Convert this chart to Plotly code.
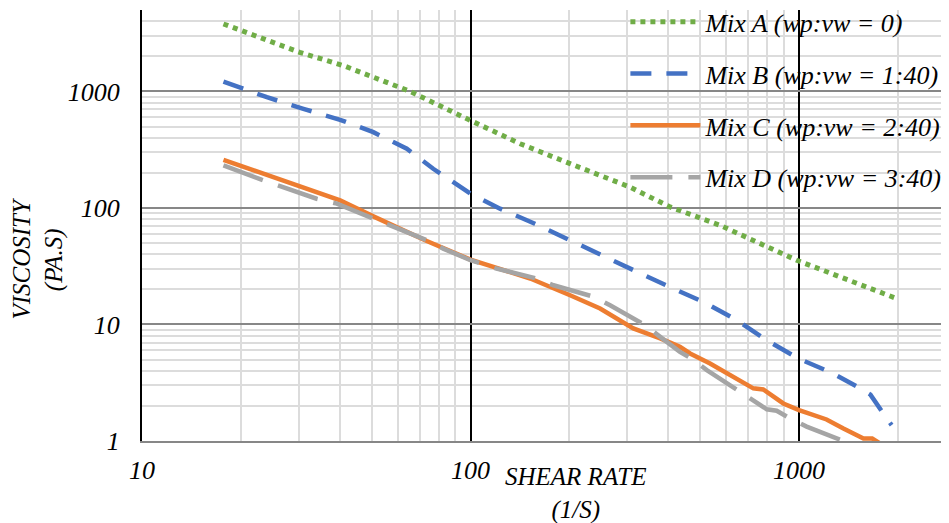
import plotly.graph_objects as go

# ---- data ----
shear_a = [17.7, 30.2, 41, 65.5, 100, 141.6, 201, 306, 405, 575, 984, 1982]
visc_a = [3794, 2168, 1667, 1000, 563, 356, 240, 151, 102, 71, 35.6, 16.7]

shear_b = [17.7, 19.9, 24, 31, 40.1, 50.6, 64, 77, 100, 123, 157, 201, 260, 319, 405,
           512, 646, 798, 995, 1270, 1535, 1650, 1850, 1914]
visc_b = [1216, 1074, 892, 709, 571, 447, 322, 217, 133, 98.6, 73.3, 52.8, 38, 28.6, 20.9,
          15.6, 10.9, 7.33, 5.11, 3.8, 2.83, 2.5, 1.56, 1.37]

shear_c = [17.7, 40.1, 50.6, 73.6, 100, 152, 201, 248, 313, 378, 434, 466, 536, 661, 726,
           778, 896, 1000, 1213, 1365, 1571, 1670, 1768]
visc_c = [259, 116, 84.7, 52, 36, 24.8, 17.8, 13.7, 9.24, 7.6, 6.43, 5.64, 4.63, 3.33, 2.83,
          2.77, 2.10, 1.84, 1.53, 1.28, 1.05, 1.05, 0.95]

shear_d = [17.7, 23.1, 34, 39.2, 50.6, 73.6, 82.6, 100, 120, 159, 179, 237, 266, 340, 378,
           434, 471, 524, 661, 735, 798, 855, 939, 1055, 1365]
visc_d = [232, 175, 120, 109, 81, 52.8, 44.8, 35.6, 30.2, 24.8, 21.7, 17.3, 14.6, 9.86, 7.83,
          5.82, 5.1, 4.06, 2.65, 2.17, 1.87, 1.82, 1.56, 1.33, 1.0]

names = ["Mix A (wp:vw = 0)", "Mix B (wp:vw = 1:40)", "Mix C (wp:vw = 2:40)", "Mix D (wp:vw = 3:40)"]
x_ticks = [10, 100, 1000]
y_ticks = [1, 10, 100, 1000]

FONT = "Liberation Serif, Times New Roman, serif"
FS = 26

fig = go.Figure()
series = [
    (shear_a, visc_a, names[0], "#70AD47", "5px,5px", 5),
    (shear_b, visc_b, names[1], "#4472C4", "21px,15px", 4.5),
    (shear_c, visc_c, names[2], "#ED7D31", "solid", 4.5),
    (shear_d, visc_d, names[3], "#A5A5A5", "42px,16px", 4.5),
]
for i, (x, y, n, c, d, w) in enumerate(series):
    fig.add_trace(go.Scatter(x=x, y=y, name=n, mode="lines", legendgroup=str(i),
                             line=dict(color=c, width=w, dash=d)))

fig.update_layout(
    width=941, height=515, autosize=False,
    margin=dict(l=134, r=0, t=2, b=82, autoexpand=False),
    plot_bgcolor="white", paper_bgcolor="white",
    font=dict(family=FONT, size=FS, color="black", style="italic"),
    showlegend=True,
    legend=dict(x=0.599, y=1.027, xanchor="left", yanchor="top",
                bgcolor="rgba(0,0,0,0)", font=dict(family=FONT, size=FS, style="italic"),
                tracegroupgap=15, itemwidth=70),
    xaxis=dict(type="log", range=[1, 3.4566], tickmode="array", tickvals=x_ticks,
               ticktext=[str(v) for v in x_ticks], ticks="", ticklabelstandoff=5,
               showgrid=True, gridcolor="black", gridwidth=2,
               minor=dict(dtick="D1", showgrid=True, gridcolor="#dcdcdc", gridwidth=1.5, ticks=""),
               showline=True, linecolor="#878787", linewidth=2, mirror=False,
               zeroline=False, automargin=False,
               tickfont=dict(family=FONT, size=FS, style="italic")),
    yaxis=dict(type="log", range=[0, 3.69897], tickmode="array", tickvals=y_ticks,
               ticktext=[str(v) for v in y_ticks], ticks="", ticklabelstandoff=15,
               showgrid=True, gridcolor="#878787", gridwidth=2,
               minor=dict(dtick="D1", showgrid=True, gridcolor="#dcdcdc", gridwidth=1.5, ticks=""),
               showline=True, linecolor="black", linewidth=2,
               zeroline=False, automargin=False,
               tickfont=dict(family=FONT, size=FS, style="italic")),
    annotations=[
        dict(text="SHEAR RATE<br>(1/S)", xref="paper", yref="paper", x=0.5366, y=-0.122,
             xanchor="center", yanchor="middle", showarrow=False,
             font=dict(family=FONT, size=25, style="italic")),
        dict(text="VISCOSITY<br>(PA.S)", xref="paper", yref="paper", x=-0.128, y=0.425,
             xanchor="center", yanchor="middle", showarrow=False, textangle=-90,
             font=dict(family=FONT, size=25, style="italic")),
    ],
)

fig.write_html("out.html")
